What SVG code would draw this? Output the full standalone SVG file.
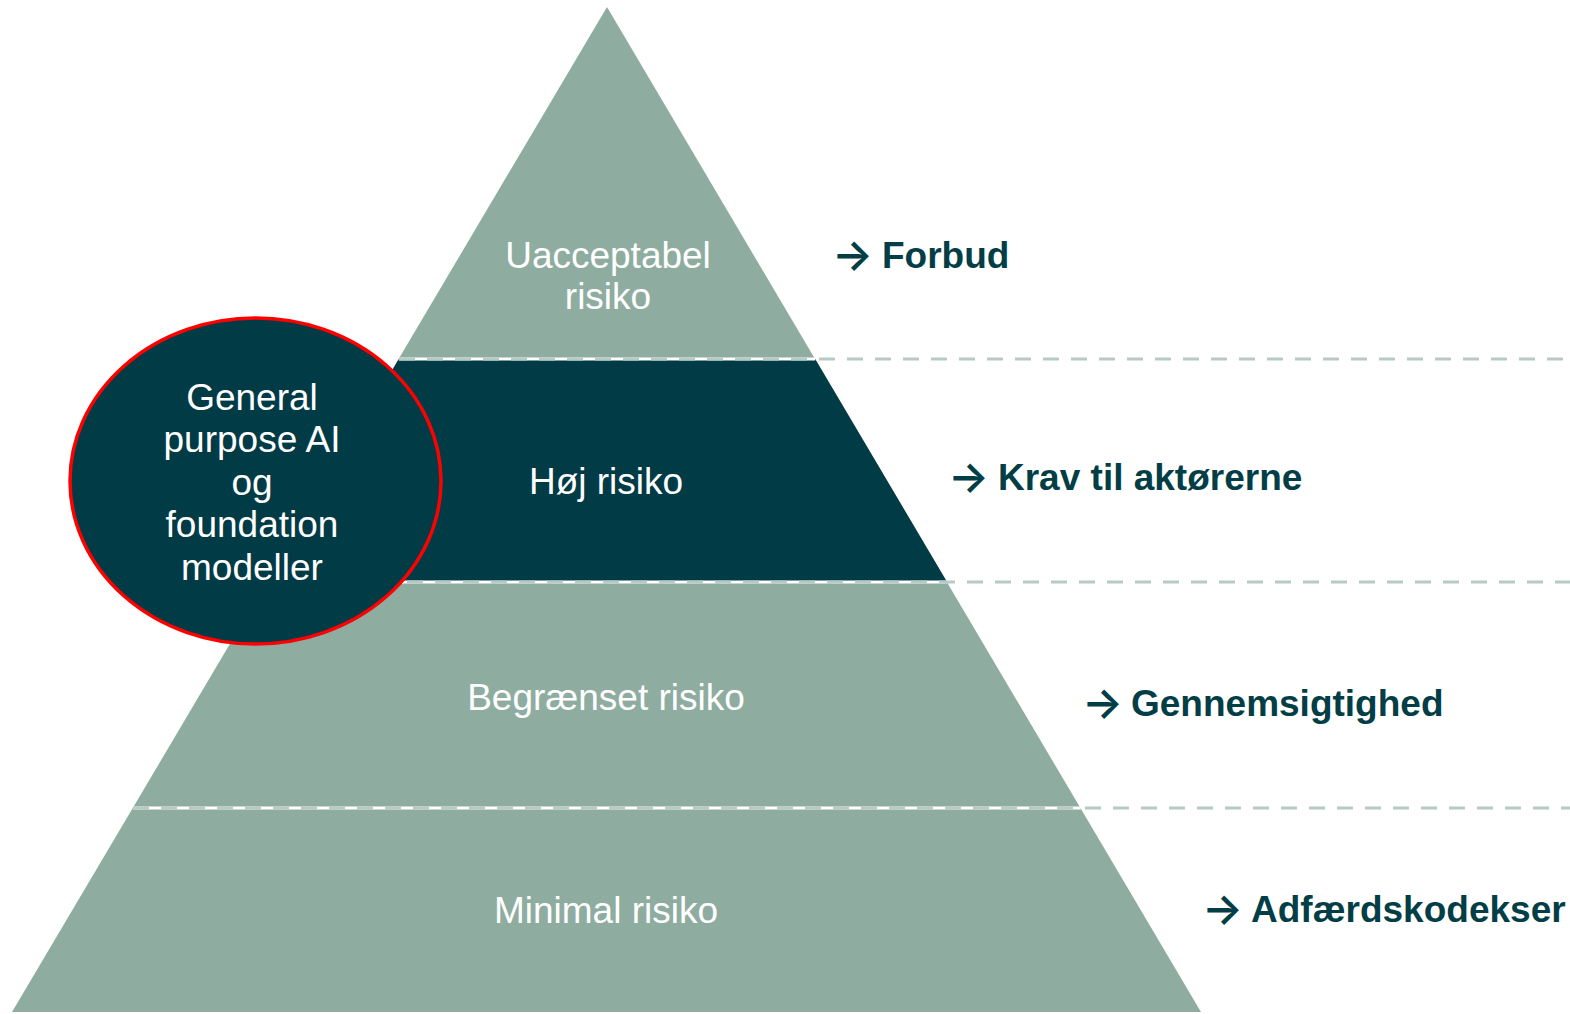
<svg xmlns="http://www.w3.org/2000/svg" width="1570" height="1014" viewBox="0 0 1570 1014">
<style>
.lvl{font-family:"Liberation Sans",Arial,sans-serif;font-size:37px;fill:#ffffff;text-anchor:middle}
.act{font-family:"Liberation Sans",Arial,sans-serif;font-size:37px;font-weight:bold;fill:#033e47}
.arr{font-family:Inter,"DejaVu Sans",sans-serif;font-size:43px;font-weight:600;fill:#033e47}
.dash{stroke:#b7cac3;stroke-width:3;stroke-dasharray:16 12;fill:none}
.wl{stroke:#ffffff;stroke-width:3;fill:none}
</style>
<rect width="1570" height="1014" fill="#ffffff"/>
<g id="pyramid">
<polygon id="tier-all" points="607,7 1201,1012 12,1012" fill="#8eada0"/>
<polygon id="tier-high" points="398.8,359 815.2,359 947.1,582 266.9,582" fill="#013b46"/>
</g>
<g id="connectors">
<line class="wl" x1="398.8" y1="359" x2="815.2" y2="359"/>
<line class="wl" x1="266.9" y1="582" x2="947.1" y2="582"/>
<line class="wl" x1="133.2" y1="808" x2="1080.8" y2="808"/>
<line class="dash" x1="399" y1="359" x2="1570" y2="359"/>
<line class="dash" x1="267" y1="582" x2="1570" y2="582"/>
<line class="dash" x1="133" y1="808" x2="1570" y2="808"/>
</g>
<g id="label-unacceptable">
<text class="lvl" x="608" y="268">Uacceptabel</text>
<text class="lvl" x="608" y="309">risiko</text>
</g>
<g id="label-high"><text class="lvl" x="606" y="494">Høj risiko</text></g>
<g id="label-limited"><text class="lvl" x="606" y="710">Begrænset risiko</text></g>
<g id="label-minimal"><text class="lvl" x="606" y="923">Minimal risiko</text></g>
<g id="gpai">
<ellipse cx="255.5" cy="481" rx="185.5" ry="163" fill="#013b46" stroke="#ff0000" stroke-width="3.5"/>
<text class="lvl" x="252" y="410">General</text>
<text class="lvl" x="252" y="452">purpose AI</text>
<text class="lvl" x="252" y="495">og</text>
<text class="lvl" x="252" y="537">foundation</text>
<text class="lvl" x="252" y="580">modeller</text>
</g>
<g id="action-forbud"><text class="arr" x="832" y="270">→</text><text class="act" x="882" y="268">Forbud</text></g>
<g id="action-krav"><text class="arr" x="948" y="492">→</text><text class="act" x="998" y="490">Krav til aktørerne</text></g>
<g id="action-gennemsigtighed"><text class="arr" x="1082" y="718">→</text><text class="act" x="1131" y="716">Gennemsigtighed</text></g>
<g id="action-adfaerd"><text class="arr" x="1202" y="924">→</text><text class="act" x="1251" y="922">Adfærdskodekser</text></g>
</svg>
